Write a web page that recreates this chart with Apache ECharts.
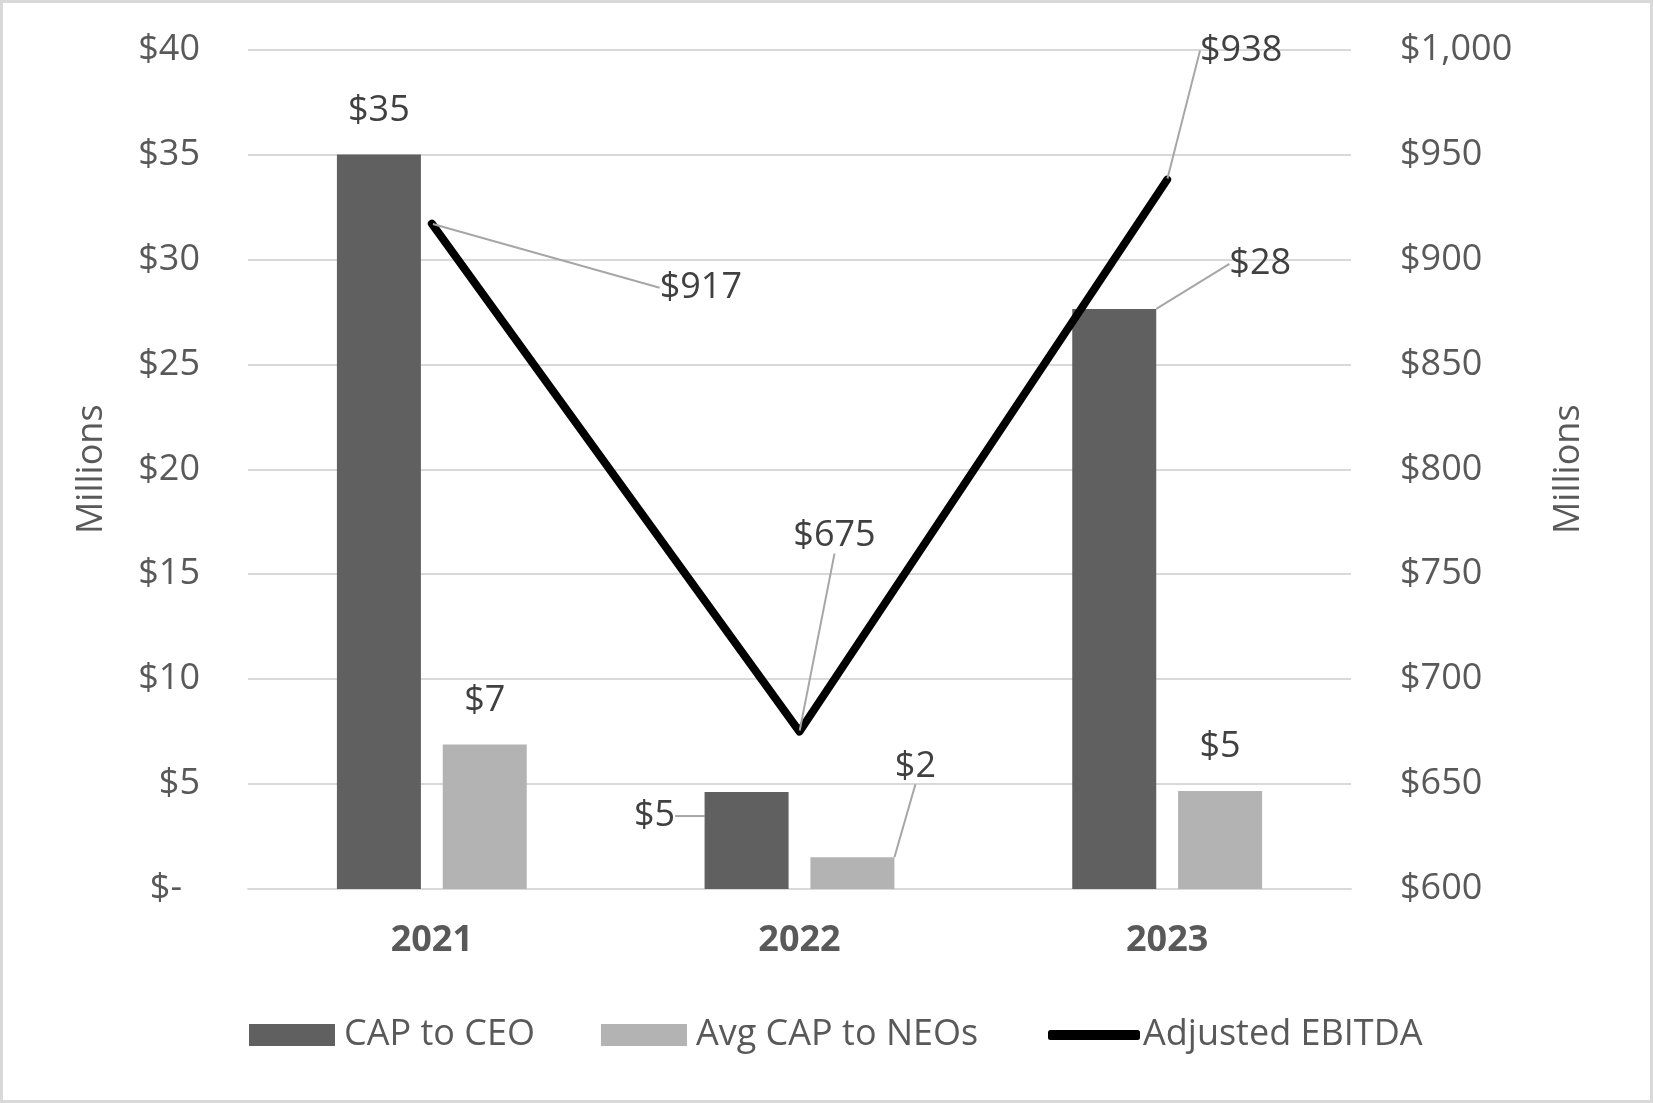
<!DOCTYPE html>
<html><head><meta charset="utf-8">
<script src="https://cdn.jsdelivr.net/npm/echarts@6/dist/echarts.min.js"></script>
<style>
html,body{margin:0;padding:0;background:#fff;}
#c{width:1653px;height:1103px;position:relative;}
#frame{position:absolute;left:0;top:0;width:1653px;height:1103px;box-sizing:border-box;border:3px solid #d9d9d9;pointer-events:none;}
</style></head>
<body>
<div id="c"></div><div id="frame"></div>
<script>
const categories = ['2021', '2022', '2023'];
const capToCeo = [35.0, 4.62, 27.64];
const avgCapToNeos = [6.88, 1.51, 4.67];
const adjustedEbitda = [917, 675, 938];
const leftTicks = {min: 0, max: 40, interval: 5};
const rightTicks = {min: 600, max: 1000, interval: 50};

const FONT = 'Open Sans';
const FS = 36;
const AXIS_COLOR = '#595959';
const LABEL_COLOR = '#404040';
const LEADER = {color: '#a6a6a6', width: 2};

// label offsets (annotation placement only)
const ceoOffsets = [null, [-92, 68], [146, -1]];
const neoOffsets = [null, [63, -47], null];
const ebitdaOffsets = [[269, 64], [35, -196], [74, -129]];

const chart = echarts.init(document.getElementById('c'), null, {renderer: 'canvas'});

function fmtLeft(v){ return v === 0 ? '{z|$-}' : '$' + v; }
function fmtRight(v){ return '$' + v.toLocaleString('en-US'); }
function money(p){ return '$' + Math.round(p.value); }

function layoutFrom(offsets){
  return function(params){
    const o = offsets[params.dataIndex];
    if (!o) return {};
    return {dx: o[0], dy: o[1]};
  };
}
function withLeaders(values, offsets){
  return values.map((v, i) => ({value: v, labelLine: {show: !!offsets[i]}}));
}

chart.setOption({
  animation: false,
  backgroundColor: '#fff',
  textStyle: {fontFamily: FONT},
  grid: {left: 248, right: 302, top: 49.5, bottom: 214, containLabel: false},
  legend: [
    {
      data: ['CAP to CEO', 'Avg CAP to NEOs'],
      left: 244, top: 1012,
      itemWidth: 86, itemHeight: 22, itemGap: 66,
      icon: 'rect',
      textStyle: {fontFamily: FONT, fontSize: FS, color: AXIS_COLOR, padding: [0, 0, 0, 4]}
    },
    {
      data: [{name: 'Adjusted EBITDA', icon: 'roundRect'}],
      left: 1043, top: 1012,
      itemWidth: 92, itemHeight: 10,
      textStyle: {fontFamily: FONT, fontSize: FS, color: AXIS_COLOR, padding: [0, 0, 0, -2]}
    }
  ],
  xAxis: {
    type: 'category',
    data: categories,
    axisLine: {show: true, lineStyle: {color: '#d9d9d9', width: 2}},
    axisTick: {show: false},
    axisLabel: {fontFamily: FONT, fontSize: FS, fontWeight: 'bold', color: AXIS_COLOR, margin: 34}
  },
  yAxis: [
    {
      type: 'value', min: leftTicks.min, max: leftTicks.max, interval: leftTicks.interval,
      name: 'Millions', nameLocation: 'middle', nameGap: 138, nameRotate: 90,
      nameTextStyle: {fontFamily: FONT, fontSize: FS, color: AXIS_COLOR},
      axisLine: {show: false}, axisTick: {show: false},
      axisLabel: {
        fontFamily: FONT, fontSize: FS, color: AXIS_COLOR, margin: 48,
        formatter: fmtLeft,
        rich: {z: {fontFamily: FONT, fontSize: FS, color: AXIS_COLOR, padding: [0, 18, 0, 0]}}
      },
      splitLine: {lineStyle: {color: '#d9d9d9', width: 2}}
    },
    {
      type: 'value', min: rightTicks.min, max: rightTicks.max, interval: rightTicks.interval,
      name: 'Millions', nameLocation: 'middle', nameGap: 200, nameRotate: 90,
      nameTextStyle: {fontFamily: FONT, fontSize: FS, color: AXIS_COLOR},
      axisLine: {show: false}, axisTick: {show: false},
      axisLabel: {fontFamily: FONT, fontSize: FS, color: AXIS_COLOR, margin: 49, formatter: fmtRight},
      splitLine: {show: false}
    }
  ],
  series: [
    {
      name: 'CAP to CEO', type: 'bar', yAxisIndex: 0,
      data: withLeaders(capToCeo, ceoOffsets), barWidth: 84, barGap: '26%',
      itemStyle: {color: '#606060'},
      label: {show: true, position: 'top', distance: 26, formatter: money,
        fontFamily: FONT, fontSize: FS, color: LABEL_COLOR},
      labelLine: {show: true, lineStyle: LEADER},
      labelLayout: layoutFrom(ceoOffsets)
    },
    {
      name: 'Avg CAP to NEOs', type: 'bar', yAxisIndex: 0,
      data: withLeaders(avgCapToNeos, neoOffsets), barWidth: 84,
      itemStyle: {color: '#b3b3b3'},
      label: {show: true, position: 'top', distance: 26, formatter: money,
        fontFamily: FONT, fontSize: FS, color: LABEL_COLOR},
      labelLine: {show: true, lineStyle: LEADER},
      labelLayout: layoutFrom(neoOffsets)
    },
    {
      name: 'Adjusted EBITDA', type: 'line', yAxisIndex: 1,
      data: adjustedEbitda,
      color: '#000',
      lineStyle: {color: '#000', width: 8, cap: 'round', join: 'round'},
      symbol: 'circle', symbolSize: 2, showSymbol: true,
      itemStyle: {color: '#000'},
      label: {show: true, position: 'inside', formatter: money,
        fontFamily: FONT, fontSize: FS, color: LABEL_COLOR},
      labelLine: {show: true, lineStyle: LEADER},
      labelLayout: layoutFrom(ebitdaOffsets),
      z: 5
    }
  ]
});
</script>
</body></html>
